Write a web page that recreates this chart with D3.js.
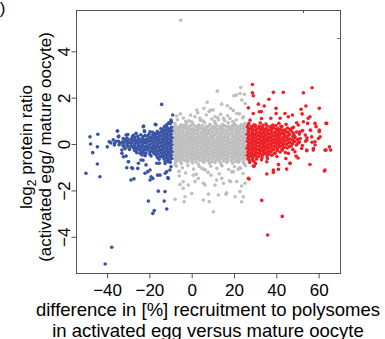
<!DOCTYPE html>
<html>
<head>
<meta charset="utf-8">
<script src="https://cdn.jsdelivr.net/npm/d3@7"></script>
<style>
  body { margin: 0; background: #fff; }
  svg { display: block; font-family: "Liberation Sans", Arial, sans-serif; }
</style>
</head>
<body>
<div id="chartDiv"></div>
<script>
// scatter: log2 protein ratio vs difference in polysome recruitment

// tick values
var xTicks = [-40, -20, 0, 20, 40, 60];
var yTicks = [-4, -2, 0, 2, 4];

// grey = unchanged recruitment
var greyPts = [
  [-7.9,0.88],[-5.1,0.83],[-2.4,0.91],[0.6,0.86],[3.3,0.82],[6.1,0.93],[8.7,0.85],[11.2,0.89],[14.5,0.84],[17.3,0.92],[20.1,0.87],[23.4,0.83],[25.2,0.9],
  [-8.6,0.72],[-6.7,0.68],[-4.8,0.74],[-3.1,0.69],[-1.2,0.71],[0.5,0.66],[2.4,0.73],[4.1,0.7],[5.8,0.67],[7.6,0.75],[9.3,0.69],[11.1,0.72],[12.9,0.66],[14.6,0.71],[16.4,0.74],[18.2,0.68],[19.9,0.73],[21.7,0.7],[23.5,0.67],[25.3,0.74],
  [-8.2,0.57],[-6.4,0.53],[-4.5,0.58],[-2.7,0.52],[-0.9,0.56],[0.9,0.54],[2.7,0.59],[4.5,0.51],[6.2,0.55],[8.0,0.58],[9.8,0.53],[11.6,0.56],[13.4,0.52],[15.1,0.57],[16.9,0.54],[18.7,0.59],[20.5,0.53],[22.2,0.56],[24.0,0.52],[25.6,0.57],
  [-8.7,0.42],[-7.0,0.38],[-5.2,0.41],[-3.4,0.37],[-1.6,0.43],[0.2,0.39],[2.0,0.42],[3.8,0.36],[5.6,0.41],[7.3,0.44],[9.1,0.38],[10.9,0.41],[12.7,0.37],[14.4,0.43],[16.2,0.39],[18.0,0.42],[19.8,0.36],[21.5,0.41],[23.3,0.38],[25.1,0.43],
  [-8.1,0.27],[-6.3,0.23],[-4.6,0.26],[-2.8,0.22],[-1.0,0.28],[0.8,0.24],[2.6,0.27],[4.4,0.21],[6.1,0.26],[7.9,0.23],[9.7,0.28],[11.5,0.22],[13.2,0.26],[15.0,0.24],[16.8,0.27],[18.6,0.21],[20.4,0.26],[22.1,0.23],[23.9,0.28],[25.7,0.24],
  [-8.6,0.12],[-6.9,0.08],[-5.1,0.11],[-3.3,0.07],[-1.5,0.13],[0.3,0.09],[2.1,0.12],[3.9,0.06],[5.7,0.11],[7.4,0.08],[9.2,0.13],[11.0,0.07],[12.8,0.11],[14.5,0.09],[16.3,0.12],[18.1,0.06],[19.9,0.11],[21.6,0.08],[23.4,0.13],[25.2,0.09],
  [-8.2,-0.03],[-6.4,-0.07],[-4.7,-0.04],[-2.9,-0.08],[-1.1,-0.02],[0.7,-0.06],[2.5,-0.03],[4.3,-0.09],[6.0,-0.04],[7.8,-0.07],[9.6,-0.02],[11.4,-0.08],[13.1,-0.04],[14.9,-0.06],[16.7,-0.03],[18.5,-0.09],[20.3,-0.04],[22.0,-0.07],[23.8,-0.02],[25.6,-0.06],
  [-8.7,-0.18],[-7.0,-0.22],[-5.2,-0.19],[-3.4,-0.23],[-1.6,-0.17],[0.2,-0.21],[2.0,-0.18],[3.8,-0.24],[5.5,-0.19],[7.3,-0.22],[9.1,-0.17],[10.9,-0.23],[12.6,-0.19],[14.4,-0.21],[16.2,-0.18],[18.0,-0.24],[19.7,-0.19],[21.5,-0.22],[23.3,-0.17],[25.1,-0.21],
  [-8.3,-0.33],[-6.5,-0.37],[-4.7,-0.34],[-2.9,-0.38],[-1.2,-0.32],[0.6,-0.36],[2.4,-0.33],[4.2,-0.39],[6.0,-0.34],[7.7,-0.37],[9.5,-0.32],[11.3,-0.38],[13.1,-0.34],[14.8,-0.36],[16.6,-0.33],[18.4,-0.39],[20.2,-0.34],[21.9,-0.37],[23.7,-0.32],[25.5,-0.36],
  [-8.6,-0.48],[-6.8,-0.52],[-5.1,-0.49],[-3.3,-0.53],[-1.5,-0.47],[0.3,-0.51],[2.1,-0.48],[3.8,-0.54],[5.6,-0.49],[7.4,-0.52],[9.2,-0.47],[10.9,-0.53],[12.7,-0.49],[14.5,-0.51],[16.3,-0.48],[18.1,-0.54],[19.8,-0.49],[21.6,-0.52],[23.4,-0.47],[25.2,-0.51],
  [-8.1,-0.63],[-6.2,-0.67],[-4.4,-0.64],[-2.6,-0.68],[-0.8,-0.62],[1.0,-0.66],[2.8,-0.63],[4.6,-0.69],[6.3,-0.64],[8.1,-0.67],[9.9,-0.62],[11.7,-0.68],[13.4,-0.64],[15.2,-0.66],[17.0,-0.63],[18.8,-0.69],[20.5,-0.64],[22.3,-0.67],[24.1,-0.62],[25.8,-0.66],
  [-7.6,-0.79],[-4.9,-0.84],[-2.2,-0.77],[0.4,-0.82],[3.1,-0.86],[5.7,-0.78],[8.4,-0.83],[11.0,-0.8],[13.8,-0.85],[16.5,-0.78],[19.3,-0.83],[22.0,-0.79],[24.7,-0.84],
  [-7.7,0.79],[-5.9,0.76],[-4.0,0.8],[-2.2,0.77],[-0.4,0.81],[1.4,0.78],[3.2,0.75],[5.0,0.8],[6.8,0.77],[8.5,0.81],[10.3,0.76],[12.1,0.79],[13.8,0.77],[15.6,0.8],[17.4,0.76],[19.1,0.79],[20.9,0.81],[22.7,0.77],[24.5,0.79],
  [-7.5,0.64],[-5.7,0.61],[-3.9,0.65],[-2.1,0.62],[-0.3,0.64],[1.5,0.6],[3.3,0.65],[5.1,0.62],[6.9,0.64],[8.6,0.61],[10.4,0.65],[12.2,0.62],[14.0,0.64],[15.7,0.6],[17.5,0.65],[19.3,0.62],[21.1,0.64],[22.8,0.61],[24.6,0.65],
  [-7.8,0.49],[-6.0,0.46],[-4.2,0.5],[-2.4,0.47],[-0.6,0.49],[1.2,0.45],[3.0,0.5],[4.8,0.47],[6.6,0.49],[8.3,0.46],[10.1,0.5],[11.9,0.47],[13.7,0.49],[15.4,0.45],[17.2,0.5],[19.0,0.47],[20.8,0.49],[22.5,0.46],[24.3,0.5],
  [-7.4,0.34],[-5.6,0.31],[-3.8,0.35],[-2.0,0.32],[-0.2,0.34],[1.6,0.3],[3.4,0.35],[5.2,0.32],[7.0,0.34],[8.7,0.31],[10.5,0.35],[12.3,0.32],[14.1,0.34],[15.8,0.3],[17.6,0.35],[19.4,0.32],[21.2,0.34],[22.9,0.31],[24.7,0.35],
  [-7.7,0.19],[-5.9,0.16],[-4.1,0.2],[-2.3,0.17],[-0.5,0.19],[1.3,0.15],[3.1,0.2],[4.9,0.17],[6.7,0.19],[8.4,0.16],[10.2,0.2],[12.0,0.17],[13.8,0.19],[15.5,0.15],[17.3,0.2],[19.1,0.17],[20.9,0.19],[22.6,0.16],[24.4,0.2],
  [-7.5,0.04],[-5.7,0.01],[-3.9,0.05],[-2.1,0.02],[-0.3,0.04],[1.5,0.0],[3.3,0.05],[5.1,0.02],[6.9,0.04],[8.6,0.01],[10.4,0.05],[12.2,0.02],[14.0,0.04],[15.7,0.0],[17.5,0.05],[19.3,0.02],[21.1,0.04],[22.8,0.01],[24.6,0.05],
  [-7.8,-0.11],[-6.0,-0.14],[-4.2,-0.1],[-2.4,-0.13],[-0.6,-0.11],[1.2,-0.15],[3.0,-0.1],[4.8,-0.13],[6.6,-0.11],[8.3,-0.14],[10.1,-0.1],[11.9,-0.13],[13.7,-0.11],[15.4,-0.15],[17.2,-0.1],[19.0,-0.13],[20.8,-0.11],[22.5,-0.14],[24.3,-0.1],
  [-7.4,-0.26],[-5.6,-0.29],[-3.8,-0.25],[-2.0,-0.28],[-0.2,-0.26],[1.6,-0.3],[3.4,-0.25],[5.2,-0.28],[7.0,-0.26],[8.7,-0.29],[10.5,-0.25],[12.3,-0.28],[14.1,-0.26],[15.8,-0.3],[17.6,-0.25],[19.4,-0.28],[21.2,-0.26],[22.9,-0.29],[24.7,-0.25],
  [-7.7,-0.41],[-5.9,-0.44],[-4.1,-0.4],[-2.3,-0.43],[-0.5,-0.41],[1.3,-0.45],[3.1,-0.4],[4.9,-0.43],[6.7,-0.41],[8.4,-0.44],[10.2,-0.4],[12.0,-0.43],[13.8,-0.41],[15.5,-0.45],[17.3,-0.4],[19.1,-0.43],[20.9,-0.41],[22.6,-0.44],[24.4,-0.4],
  [-7.5,-0.56],[-5.7,-0.59],[-3.9,-0.55],[-2.1,-0.58],[-0.3,-0.56],[1.5,-0.6],[3.3,-0.55],[5.1,-0.58],[6.9,-0.56],[8.6,-0.59],[10.4,-0.55],[12.2,-0.58],[14.0,-0.56],[15.7,-0.6],[17.5,-0.55],[19.3,-0.58],[21.1,-0.56],[22.8,-0.59],[24.6,-0.55],
  [-7.2,-0.72],[-5.3,-0.75],[-3.5,-0.71],[-1.6,-0.74],[0.2,-0.72],[2.0,-0.76],[3.9,-0.71],[5.8,-0.74],[7.6,-0.72],[9.5,-0.75],[11.3,-0.71],[13.2,-0.74],[15.0,-0.72],[16.9,-0.76],[18.7,-0.71],[20.6,-0.74],[22.4,-0.72],[24.3,-0.75],
  [-6.8,1.05],[-3.9,1.12],[-1.3,1.0],[1.5,1.18],[4.2,1.02],[6.9,1.25],[9.5,1.08],[12.3,1.15],[15.6,1.01],[18.1,1.1],[21.0,1.04],[24.1,1.13],[-5.3,1.3],[2.8,1.35],[8.2,1.4],[13.7,1.28],[17.0,1.22],[22.6,1.3],[-0.5,1.25],[10.8,0.98],[19.4,0.97],[5.5,0.99],[-2.8,0.98],
  [5.8,1.54],[2.4,1.47],[9,1.47],[11,1.18],[3.9,1.11],[-7.1,1.21],[0,0.96],[-3.2,0.82],[10.2,1.47],[18.4,1.54],[19.7,1.44],[21.3,1.32],[24.4,1.18],[15,1.11],[12.6,1.05],
  [12.1,2.28],[23.2,2.44],[20,2.08],[21.1,2.11],[22.8,2.18],[24.9,2.15],[-5.2,5.34],[14.2,1.72],[16.8,1.65],[7.3,1.8],[23.7,1.9],[25.3,1.75],
  [-7.2,-0.95],[-4.4,-1.02],[-1.8,-0.93],[0.9,-1.08],[3.6,-0.97],[6.4,-1.12],[9.0,-0.96],[11.9,-1.05],[14.3,-0.94],[17.4,-1.1],[20.2,-0.98],[23.1,-1.04],[25.4,-0.93],[-6.0,-1.18],[-2.9,-1.25],[2.2,-1.3],[7.7,-1.22],[13.0,-1.28],[18.9,-1.2],[24.3,-1.27],
  [-7.9,-0.9],[-5.9,-1.38],[-5.5,-1.74],[-4,-1.91],[-7.9,-2.38],[-3.6,-2.49],[-3.2,-2.27],[0,-2.13],[-1.6,-1.77],[1.6,-1.62],[3.1,-1.48],[5.5,-1.69],[9.1,-1.34],[11,-1.77],[5.5,-2.41],[7.9,-2.16],[10.2,-2.92],[14.2,-1.48],[15,-1.69],[17.8,-1.58],[19.7,-1.19],[22,-1.09],[21.3,-1.62],[16.5,-2.1],[22.8,-2.05],[20.5,-2.27],[12.6,-2.2],[0.8,-1.34],[4.9,-1.05],[-4,-1.62],[5.8,-1.09],[6.3,-1.77],[8.3,-2.49],[11.8,-1.55],[16.2,-2.16],[18.4,-1.62],[23.6,-1.81],[24.4,-2.27],[23.6,-2.49],[22.5,-1.02],[25.2,-1.69]
];

// blue = lower recruitment in activated egg
var bluePts = [
  [-10.2,0.88],[-12.1,0.82],[-9.5,0.95],
  [-9.6,0.72],[-11.3,0.68],[-13.0,0.74],[-14.6,0.66],
  [-9.4,0.57],[-11.0,0.53],[-12.7,0.58],[-14.4,0.52],[-16.2,0.55],[-18.5,0.51],[-22.3,0.53],
  [-9.8,0.42],[-11.5,0.38],[-13.2,0.41],[-14.9,0.37],[-16.7,0.43],[-18.4,0.39],[-20.2,0.42],[-22.0,0.37],[-24.1,0.4],[-27.5,0.38],[-30.2,0.41],
  [-9.3,0.27],[-11.0,0.23],[-12.8,0.26],[-14.5,0.22],[-16.3,0.28],[-18.0,0.24],[-19.8,0.27],[-21.6,0.21],[-23.3,0.26],[-25.1,0.23],[-26.9,0.28],[-28.7,0.22],[-30.6,0.26],[-32.4,0.24],
  [-9.7,0.12],[-11.4,0.08],[-13.2,0.11],[-14.9,0.07],[-16.7,0.13],[-18.4,0.09],[-20.2,0.12],[-22.0,0.06],[-23.8,0.11],[-25.6,0.08],[-27.3,0.13],[-29.1,0.07],[-30.9,0.11],[-32.8,0.09],[-34.6,0.12],
  [-9.4,-0.03],[-11.1,-0.07],[-12.9,-0.04],[-14.6,-0.08],[-16.4,-0.02],[-18.1,-0.06],[-19.9,-0.03],[-21.7,-0.09],[-23.5,-0.04],[-25.2,-0.07],[-27.0,-0.02],[-28.8,-0.08],[-30.6,-0.04],[-32.5,-0.06],[-34.3,-0.03],
  [-9.8,-0.18],[-11.5,-0.22],[-13.3,-0.19],[-15.0,-0.23],[-16.8,-0.17],[-18.5,-0.21],[-20.3,-0.18],[-22.1,-0.24],[-23.9,-0.19],[-25.7,-0.22],[-27.5,-0.17],[-29.4,-0.23],[-31.5,-0.2],
  [-9.3,-0.33],[-11.0,-0.37],[-12.8,-0.34],[-14.5,-0.38],[-16.3,-0.32],[-18.0,-0.36],[-19.8,-0.33],[-21.6,-0.39],[-23.6,-0.34],[-26.0,-0.37],
  [-9.7,-0.48],[-11.4,-0.52],[-13.2,-0.49],[-14.9,-0.53],[-16.9,-0.47],[-19.2,-0.51],[-22.0,-0.5],
  [-9.5,-0.63],[-11.2,-0.67],[-13.1,-0.64],[-15.4,-0.66],
  [-10.1,-0.79],[-12.6,-0.84],
  [-10.4,0.63],[-12.2,0.61],[-13.9,0.64],
  [-10.2,0.49],[-12.0,0.46],[-13.8,0.5],[-15.6,0.47],[-17.4,0.45],
  [-10.1,0.34],[-11.9,0.31],[-13.7,0.35],[-15.5,0.32],[-17.3,0.34],[-19.1,0.3],[-20.9,0.35],[-23.0,0.32],[-25.5,0.33],
  [-10.2,0.19],[-12.0,0.16],[-13.8,0.2],[-15.6,0.17],[-17.4,0.19],[-19.2,0.15],[-21.0,0.2],[-22.8,0.17],[-24.6,0.19],[-26.4,0.16],[-28.2,0.2],[-30.0,0.17],[-31.8,0.19],
  [-10.5,0.04],[-12.3,0.01],[-14.1,0.05],[-15.9,0.02],[-17.7,0.04],[-19.5,0.0],[-21.3,0.05],[-23.1,0.02],[-24.9,0.04],[-26.7,0.01],[-28.5,0.05],[-30.3,0.02],[-32.1,0.04],[-33.9,0.03],
  [-10.3,-0.11],[-12.1,-0.14],[-13.9,-0.1],[-15.7,-0.13],[-17.5,-0.11],[-19.3,-0.15],[-21.1,-0.1],[-22.9,-0.13],[-24.7,-0.11],[-26.5,-0.14],[-28.3,-0.1],[-30.1,-0.13],[-32.0,-0.11],
  [-10.2,-0.26],[-12.0,-0.29],[-13.8,-0.25],[-15.6,-0.28],[-17.4,-0.26],[-19.2,-0.3],[-21.0,-0.25],[-22.8,-0.28],[-24.7,-0.26],[-27.0,-0.28],
  [-10.4,-0.41],[-12.2,-0.44],[-14.0,-0.4],[-15.8,-0.43],[-17.6,-0.41],[-19.8,-0.44],[-22.4,-0.41],
  [-10.3,-0.56],[-12.1,-0.59],[-14.0,-0.55],[-16.2,-0.58],
  [-10.6,-0.72],[-12.5,-0.74],
  [-48.1,0.31],[-44.4,0.42],[-47.8,0],[-46.8,-0.37],[-44.6,-0.12],[-44.6,-0.86],[-50,-1.26],[-43.4,-1.41],[-37.8,-4.45],[-40.9,-5.17],
  [-39.9,-0.12],[-38.2,0.05],[-37.1,0.18],[-36.4,0.02],[-35.8,0.12],[-39,0.1],[-36.6,-0.04],[-35.2,0.56],[-34.7,0.31],[-34.5,0.34],
  [-33,-0.26],[-33,-0.4],[-32.3,-0.55],[-31,-0.52],[-30,-0.76],[-29.8,-0.76],[-30.7,-1.02],[-28.4,-1.02],[-27.9,-1.05],[-28.7,-1.55],[-27.3,-1.5],
  [-22.9,0.75],[-22.7,0.78],[-16.9,0.83],[-17.2,0.85],[-14.2,1.71],[-20.5,-2.46],[-15.8,-2.03],[-13,-2.46],[-12.6,-2.05],[-17.7,-2.87],[-18.4,-2.99],[-11.8,-2.8],
  [-21.6,-0.9],[-22.1,-1.26],[-19.7,-1.12],[-19.7,-1.55],[-18.4,-1.48],[-15,-1.34],[-11.8,-1.19],[-11.1,-1.48],[-10.3,-1.12],[-11.1,-0.76],[-16.5,-0.83],
  [-25.2,-0.83],[-23,-0.7],[-24.4,-0.4],[-19.7,0.53],[-11.8,0.75],[-11.1,0.89],[-9.8,1.03],[-9,1.25],[-10.6,0.92],[-35,0.56],[-31,0.39],[-27.9,0.33],
  [-22.4,0.57],[-26.3,0.46],[-25.5,-1.05],[-20.8,-1.19],[-19.2,-1.41],[-16.1,-1.34],[-12.5,-1.26],[-11.3,-1.44],[-9.8,-0.98],[-15.3,-0.83],[-23.5,-0.47],[-24,-0.69]
];

// red = higher recruitment in activated egg
var redPts = [
  [27.0,0.88],[29.5,0.83],[32.4,0.91],[35.1,0.86],[38.3,0.82],[41.2,0.9],[44.6,0.85],
  [26.4,0.72],[28.1,0.68],[29.9,0.74],[31.6,0.69],[33.4,0.71],[35.2,0.66],[37.0,0.73],[38.8,0.7],[40.7,0.67],[42.6,0.75],[45.3,0.69],[48.1,0.72],
  [26.8,0.57],[28.5,0.53],[30.3,0.58],[32.1,0.52],[33.9,0.56],[35.6,0.54],[37.4,0.59],[39.2,0.51],[41.0,0.55],[42.9,0.58],[44.8,0.53],[47.0,0.56],[49.6,0.52],[52.4,0.58],
  [26.2,0.42],[27.9,0.38],[29.7,0.41],[31.5,0.37],[33.2,0.43],[35.0,0.39],[36.8,0.42],[38.6,0.36],[40.4,0.41],[42.2,0.44],[44.1,0.38],[46.2,0.41],[48.4,0.37],[50.9,0.43],[53.7,0.39],
  [26.6,0.27],[28.4,0.23],[30.1,0.26],[31.9,0.22],[33.7,0.28],[35.5,0.24],[37.2,0.27],[39.0,0.21],[40.8,0.26],[42.6,0.23],[44.5,0.28],[46.5,0.22],[48.8,0.26],[51.3,0.24],[54.5,0.27],
  [26.3,0.12],[28.0,0.08],[29.8,0.11],[31.6,0.07],[33.4,0.13],[35.1,0.09],[36.9,0.12],[38.7,0.06],[40.5,0.11],[42.3,0.08],[44.2,0.13],[46.3,0.07],[48.6,0.11],[51.0,0.09],[53.8,0.12],[56.9,0.08],
  [26.7,-0.03],[28.4,-0.07],[30.2,-0.04],[32.0,-0.08],[33.7,-0.02],[35.5,-0.06],[37.3,-0.03],[39.1,-0.09],[40.9,-0.04],[42.8,-0.07],[44.8,-0.02],[47.0,-0.08],[49.5,-0.04],[52.3,-0.06],
  [26.2,-0.18],[27.9,-0.22],[29.7,-0.19],[31.5,-0.23],[33.3,-0.17],[35.0,-0.21],[36.8,-0.18],[38.7,-0.24],[40.6,-0.19],[42.7,-0.22],[45.1,-0.17],[47.8,-0.23],
  [26.6,-0.33],[28.3,-0.37],[30.1,-0.34],[31.9,-0.38],[33.7,-0.32],[35.5,-0.36],[37.4,-0.33],[39.5,-0.39],[41.8,-0.34],[44.3,-0.37],
  [26.3,-0.48],[28.0,-0.52],[29.8,-0.49],[31.6,-0.53],[33.5,-0.47],[35.6,-0.51],[37.9,-0.48],[40.3,-0.54],
  [26.7,-0.63],[28.6,-0.67],[30.7,-0.64],[33.0,-0.68],[35.8,-0.62],
  [27.4,-0.79],[30.2,-0.84],
  [26.5,0.79],[28.3,0.76],[30.1,0.8],[31.9,0.77],[33.7,0.81],[35.6,0.78],[37.6,0.75],[39.8,0.8],[42.2,0.77],
  [27.2,0.64],[29.0,0.61],[30.8,0.65],[32.6,0.62],[34.4,0.64],[36.2,0.6],[38.0,0.65],[39.9,0.62],[41.9,0.64],[44.0,0.61],[46.5,0.63],
  [27.0,0.49],[28.8,0.46],[30.6,0.5],[32.4,0.47],[34.2,0.49],[36.0,0.45],[37.8,0.5],[39.6,0.47],[41.5,0.49],[43.4,0.46],[45.5,0.5],[48.0,0.47],
  [27.2,0.34],[29.0,0.31],[30.8,0.35],[32.6,0.32],[34.4,0.34],[36.2,0.3],[38.0,0.35],[39.8,0.32],[41.6,0.34],[43.5,0.31],[45.6,0.35],[47.8,0.32],
  [27.1,0.19],[28.9,0.16],[30.7,0.2],[32.5,0.17],[34.3,0.19],[36.1,0.15],[37.9,0.2],[39.7,0.17],[41.5,0.19],[43.4,0.16],[45.4,0.2],[47.6,0.17],[50.1,0.19],
  [27.2,0.04],[29.0,0.01],[30.8,0.05],[32.6,0.02],[34.4,0.04],[36.2,0.0],[38.0,0.05],[39.8,0.02],[41.6,0.04],[43.5,0.01],[45.5,0.05],[47.7,0.02],[50.2,0.03],
  [27.0,-0.11],[28.8,-0.14],[30.6,-0.1],[32.4,-0.13],[34.2,-0.11],[36.0,-0.15],[37.8,-0.1],[39.7,-0.13],[41.7,-0.11],[43.8,-0.14],[46.2,-0.11],
  [27.1,-0.26],[28.9,-0.29],[30.7,-0.25],[32.5,-0.28],[34.3,-0.26],[36.2,-0.3],[38.2,-0.25],[40.4,-0.28],[42.9,-0.26],
  [27.0,-0.41],[28.8,-0.44],[30.6,-0.4],[32.5,-0.43],[34.5,-0.41],[36.7,-0.44],[39.0,-0.41],
  [27.1,-0.56],[29.0,-0.59],[31.0,-0.55],[33.2,-0.58],
  [27.3,-0.72],[29.4,-0.74],
  [35.9,-3.92],[42.8,-3.12],[33.1,-2.43],[27.1,-1.51],[35.5,-1.29],[38.6,-1.22],[41,-1.09],[44.9,-1.08],[41,-0.88],[46.5,-0.83],[55.9,-0.88],[62.7,-1.16],
  [49.3,-0.52],[45.7,-0.4],[54.4,-0.29],[57.5,-0.26],[63.5,-0.26],[65.1,-0.12],[65.7,-0.26],[59.9,0.24],[60.3,0.53],[63.8,0.89],[58.3,-0.04],[35.5,-0.76],[29.1,-0.95],
  [28.7,2.57],[28.7,2.21],[29.1,2.08],[38.6,2.23],[43.3,2.23],[52.8,2.21],[56.9,2.43],[36.5,1.93],[31.5,1.72],[34.3,1.64],[26.8,1.56],[39.9,1.54],[54,1.64],[60.3,1.54],[51.7,1.5],
  [29.1,1.32],[32,1.39],[32.9,1.4],[39.9,1.32],[44.1,1.32],[45.7,1.18],[47.6,1.25],[52.2,1.3],[55.9,1.18],[41.8,1.11],[37.4,1.11],[33,1.1],[27.6,1.03],[63.5,0.89],[58.3,0.89],[54.8,0.89],[49.6,0.92],
  [47.3,0.68],[50.4,0.82],[52.8,0.96],[55.1,1.11],[51.2,0.53],[48.8,0.31],[54.4,0.17],[56.7,0.31],[58.3,0.1],[60.7,0.31],[60.3,0.6],[63,-0.26],[57.5,-0.19],[54.4,-0.26],[52,-0.19],[48.8,-0.33],
  [46.5,-0.83],[38.6,-1.12],[63,-1.12],[29.6,-0.95],[26.8,-1.48],[50.3,-0.6],[44.5,-0.62],[56.1,0.6],[58.8,0.75]
];

var xTitle = ["difference in [%] recruitment to polysomes", "in activated egg versus mature oocyte"];
var yTitle2 = "(activated egg/ mature oocyte)";

var chartWidth = 385;
var chartHeight = 339;
var plotL = 76, plotR = 340, plotT = 10, plotB = 273;

var svg = d3.select('#chartDiv')
            .append('svg')
            .attr('width', chartWidth)
            .attr('height', chartHeight);

var x = d3.scaleLinear().domain([-54.7, 70.1]).range([plotL, plotR]);
var y = d3.scaleLinear().domain([-5.56, 5.78]).range([plotB, plotT]);

var minus = function(d) { return d < 0 ? '\u2212' + Math.abs(d) : '' + d; };

// points
var groups = [
  { pts: greyPts, col: '#bebebe' },
  { pts: bluePts, col: '#3a54a5' },
  { pts: redPts, col: '#ee1f26' }
];
groups.forEach(function(g) {
  svg.append('g')
     .selectAll('circle')
     .data(g.pts)
     .enter()
     .append('circle')
     .attr('cx', function(d) { return x(d[0]); })
     .attr('cy', function(d) { return y(d[1]); })
     .attr('r', 1.8)
     .attr('fill', g.col);
});

// box
svg.append('rect')
   .attr('x', plotL + 0.5)
   .attr('y', plotT + 0.5)
   .attr('width', plotR - plotL)
   .attr('height', plotB - plotT)
   .attr('fill', 'none')
   .attr('stroke', '#555')
   .attr('stroke-width', 1);

// x axis
var xAxis = svg.append('g')
   .attr('transform', 'translate(0,' + (plotB + 0.5) + ')')
   .call(d3.axisBottom(x).tickValues(xTicks).tickFormat(minus).tickSize(5).tickSizeOuter(0));
xAxis.select('.domain').remove();
xAxis.selectAll('line').attr('stroke', '#555');
xAxis.selectAll('text')
     .attr('dy', null)
     .attr('y', 22.5)
     .attr('fill', '#000')
     .style('font-size', '17px')
     .style('font-family', '"Liberation Sans", Arial, sans-serif');

// y axis
var yAxis = svg.append('g')
   .attr('transform', 'translate(' + (plotL + 0.5) + ',0)')
   .call(d3.axisLeft(y).tickValues(yTicks).tickFormat(minus).tickSize(5).tickSizeOuter(0));
yAxis.select('.domain').remove();
yAxis.selectAll('line').attr('stroke', '#555');
yAxis.selectAll('text')
     .attr('x', null)
     .attr('dy', null)
     .attr('transform', 'translate(-6.5,0) rotate(-90)')
     .attr('text-anchor', 'middle')
     .attr('fill', '#000')
     .style('font-size', '17px')
     .style('font-family', '"Liberation Sans", Arial, sans-serif');

// stray ticks on top and right edge
svg.append('line').attr('x1', 303.5).attr('x2', 303.5).attr('y1', plotT).attr('y2', plotT + 3).attr('stroke', '#555');
svg.append('line').attr('x1', plotR - 3).attr('x2', plotR).attr('y1', 38.5).attr('y2', 38.5).attr('stroke', '#777');

// x title
svg.selectAll('.xtitle')
   .data(xTitle)
   .enter()
   .append('text')
   .attr('class', 'xtitle')
   .attr('x', 208)
   .attr('y', function(d, i) { return 316 + i * 20.5; })
   .attr('text-anchor', 'middle')
   .style('font-size', '18.5px')
   .text(function(d) { return d; });

// y title
var yt = svg.append('text')
   .attr('transform', 'translate(32,147) rotate(-90)')
   .attr('text-anchor', 'middle')
   .style('font-size', '17px');
yt.append('tspan').text('log');
yt.append('tspan').attr('dy', 4).style('font-size', '12px').text('2');
yt.append('tspan').attr('dy', -4).text(' protein ratio');

svg.append('text')
   .attr('transform', 'translate(51,147) rotate(-90)')
   .attr('text-anchor', 'middle')
   .style('font-size', '17px')
   .text(yTitle2);

// panel letter remnant at the left edge
svg.append('text')
   .attr('x', 5.5)
   .attr('y', 14)
   .attr('text-anchor', 'end')
   .style('font-size', '17px')
   .text(')');
</script>
</body>
</html>
